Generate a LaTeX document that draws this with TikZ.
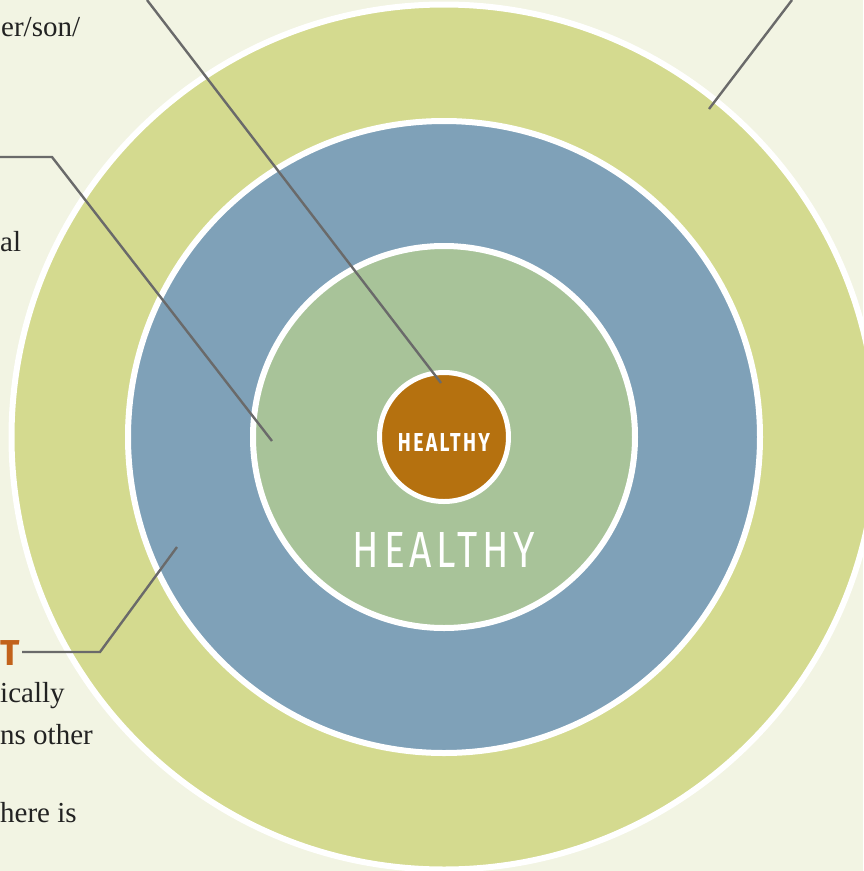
\documentclass[tikz,border=0pt]{standalone}
\usepackage{fontspec}
\usepackage{graphicx}
\usepackage{tikz}
\usetikzlibrary{positioning}
\setmainfont{Liberation Serif}
\newfontfamily\handfont[LetterSpace=12]{Fira Sans}

\definecolor{paper}{HTML}{F2F4E3}
\definecolor{outergreen}{HTML}{D4DA8F}
\definecolor{ringblue}{HTML}{7FA1B8}
\definecolor{midgreen}{HTML}{A8C399}
\definecolor{coreorange}{HTML}{B5710F}
\definecolor{headorange}{HTML}{C2621B}
\definecolor{linegray}{HTML}{6A6A6A}
\definecolor{inkgray}{HTML}{222222}

\begin{document}
\begin{tikzpicture}[
    x=1pt, y=-1pt,
    every node/.style={inner sep=0pt},
    ring/.style={circle, draw=white, line width=6pt},
    leader/.style={draw=linegray, line width=2.4pt},
    sidetext/.style={font=\fontsize{29}{34}\selectfont, text=inkgray, anchor=base west}
]

% Background
\fill[paper] (0,0) rectangle (863,871);
\useasboundingbox (0,0) rectangle (863,871);

% Rings
\node[ring, fill=outergreen, minimum size=865pt] (outer) at (444,437) {};
\node[ring, fill=ringblue, minimum size=632pt] (middle) at (444,437) {};
\node[ring, fill=midgreen, minimum size=382pt] (inner) at (444,437) {};
\node[ring, fill=coreorange, line width=5pt, minimum size=129pt] (core) at (444,437) {};

% Ring labels
\node[text=white] (corelabel) at (444,442.5) {\resizebox{92pt}{18pt}{\handfont\bfseries HEALTHY}};
\node[text=white, anchor=base] (innerlabel) at (444,567) {\resizebox{182pt}{35pt}{\handfont HEALTHY}};

% Side text
\node[sidetext] (toptext) at (1,36) {er/son/};
\node[sidetext] (midtext) at (0,251) {al};
\node[text=headorange, font=\fontsize{36}{36}\selectfont\handfont\bfseries, anchor=base west] (lowhead) at (0,665) {T};
\node[sidetext] (lowtext1) at (0,702) {ically};
\node[sidetext] (lowtext2) at (0,744) {ns other};
\node[sidetext] (lowtext3) at (0,822) {here is};

% Leader lines
\coordinate (topstart) at (147,0);
\coordinate (topend) at (441,383);
\draw[leader] (topstart) -- (topend);

\coordinate (midstart) at (0,157);
\coordinate (midbend) at (52,157);
\coordinate (midend) at (272,441);
\draw[leader] (midstart) -- (midbend) -- (midend);

\coordinate (lowstart) at (22,652);
\coordinate (lowbend) at (100,652);
\coordinate (lowend) at (177,547);
\draw[leader] (lowstart) -- (lowbend) -- (lowend);

\coordinate (rightstart) at (792,0);
\coordinate (rightend) at (709,109);
\draw[leader] (rightstart) -- (rightend);

\end{tikzpicture}
\end{document}
